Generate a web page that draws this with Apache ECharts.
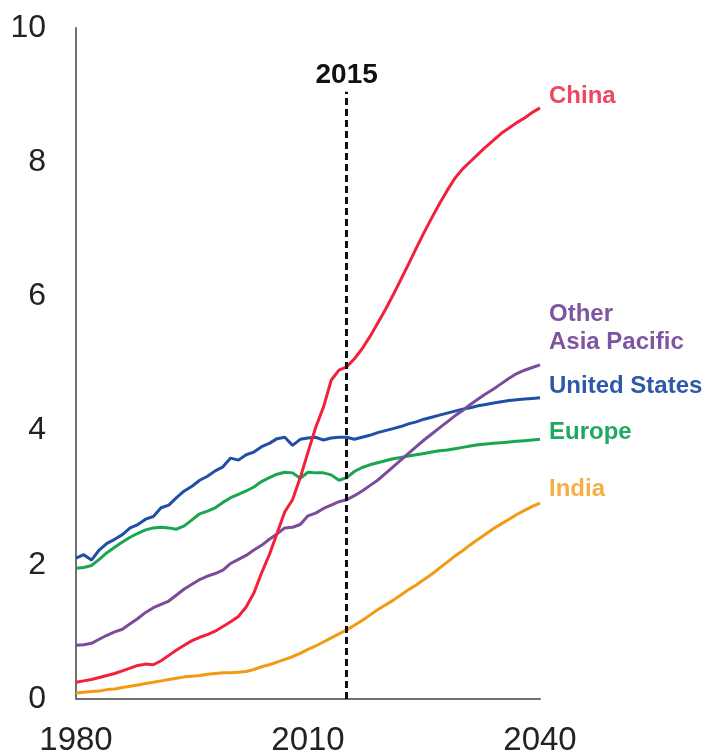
<!DOCTYPE html>
<html>
<head>
<meta charset="utf-8">
<title>Demand by region</title>
<script src="https://cdn.jsdelivr.net/npm/echarts@6/dist/echarts.min.js"></script>
<style>
  html, body { margin: 0; padding: 0; background: #fff; }
  #chart { width: 710px; height: 752px; }
</style>
</head>
<body>
<div id="chart"></div>
<script>
// years 1980..2040, one value per year
const years = [];
for (let y = 1980; y <= 2040; y++) years.push(y);

const china = [0.25, 0.27, 0.29, 0.32, 0.35, 0.38, 0.42, 0.46, 0.50, 0.52,
  0.51, 0.57, 0.65, 0.73, 0.80, 0.87, 0.92, 0.96, 1.01, 1.08,
  1.15, 1.23, 1.37, 1.58, 1.88, 2.15, 2.47, 2.79, 2.97, 3.30,
  3.68, 4.05, 4.35, 4.75, 4.90, 4.95, 5.07, 5.22, 5.40, 5.60,
  5.80, 6.02, 6.25, 6.48, 6.72, 6.95, 7.17, 7.38, 7.58, 7.76,
  7.90, 8.01, 8.12, 8.23, 8.33, 8.43, 8.51, 8.59, 8.66, 8.74, 8.81];

const otherAsia = [0.80, 0.81, 0.83, 0.89, 0.95, 1.00, 1.04, 1.12, 1.20, 1.29,
  1.36, 1.41, 1.46, 1.55, 1.64, 1.71, 1.78, 1.83, 1.87, 1.92,
  2.02, 2.08, 2.14, 2.22, 2.29, 2.38, 2.46, 2.55, 2.56, 2.60,
  2.73, 2.77, 2.84, 2.89, 2.94, 2.97, 3.03, 3.10, 3.18, 3.26,
  3.36, 3.46, 3.56, 3.66, 3.76, 3.86, 3.95, 4.04, 4.13, 4.22,
  4.30, 4.39, 4.47, 4.55, 4.62, 4.70, 4.78, 4.85, 4.90, 4.94, 4.98];

const unitedStates = [2.10, 2.15, 2.07, 2.22, 2.32, 2.38, 2.45, 2.55, 2.60, 2.68,
  2.72, 2.85, 2.89, 3.00, 3.10, 3.17, 3.26, 3.32, 3.40, 3.46,
  3.59, 3.56, 3.64, 3.68, 3.76, 3.81, 3.88, 3.90, 3.78, 3.87,
  3.89, 3.90, 3.86, 3.89, 3.90, 3.90, 3.87, 3.90, 3.93, 3.97,
  4.00, 4.03, 4.06, 4.10, 4.13, 4.17, 4.20, 4.23, 4.26, 4.29,
  4.32, 4.34, 4.37, 4.39, 4.41, 4.43, 4.45, 4.46, 4.47, 4.48, 4.49];

const europe = [1.95, 1.96, 1.99, 2.08, 2.18, 2.26, 2.34, 2.41, 2.47, 2.52,
  2.55, 2.56, 2.55, 2.53, 2.58, 2.67, 2.76, 2.80, 2.85, 2.93,
  3.00, 3.05, 3.10, 3.16, 3.24, 3.30, 3.35, 3.38, 3.37, 3.29,
  3.38, 3.37, 3.37, 3.34, 3.26, 3.30, 3.39, 3.45, 3.49, 3.52,
  3.55, 3.58, 3.60, 3.62, 3.64, 3.66, 3.68, 3.70, 3.71, 3.73,
  3.75, 3.77, 3.79, 3.80, 3.81, 3.82, 3.83, 3.84, 3.85, 3.86, 3.87];

const india = [0.09, 0.10, 0.11, 0.12, 0.14, 0.15, 0.17, 0.19, 0.21, 0.23,
  0.25, 0.27, 0.29, 0.31, 0.33, 0.34, 0.35, 0.37, 0.38, 0.39,
  0.39, 0.40, 0.41, 0.44, 0.48, 0.51, 0.55, 0.59, 0.63, 0.68,
  0.74, 0.79, 0.85, 0.91, 0.97, 1.03, 1.10, 1.17, 1.25, 1.33,
  1.40, 1.47, 1.55, 1.63, 1.70, 1.78, 1.86, 1.95, 2.04, 2.13,
  2.21, 2.30, 2.38, 2.46, 2.54, 2.61, 2.68, 2.75, 2.81, 2.87, 2.92];

const xTicks = [1980, 2010, 2040];
const markYear = 2015;
const markTop = 9.05;

const pairs = vals => years.map((y, i) => [y, vals[i]]);

const font = 'Liberation Sans, Arial, sans-serif';

function line(name, vals, color, labelColor, labelText, dy) {
  return {
    name: name,
    type: 'line',
    data: pairs(vals),
    showSymbol: false,
    lineStyle: { color: color, width: 3 },
    itemStyle: { color: color },
    emphasis: { disabled: true },
    endLabel: {
      show: true,
      formatter: labelText,
      color: labelColor,
      fontFamily: font,
      fontWeight: 'bold',
      fontSize: 24,
      lineHeight: 28,
      align: 'left',
      distance: 5,
      offset: [4, dy]
    }
  };
}

const myChart = echarts.init(document.getElementById('chart'));

let option = {
  animation: false,
  // 不让 v6 自动收缩网格，x 轴标签允许贴着底边
  grid: { left: 76, right: 170, top: 28, bottom: 53, outerBoundsMode: 'none' },
  xAxis: {
    type: 'value',
    min: 1980,
    max: 2040,
    interval: 30,
    axisLine: { show: true, lineStyle: { color: '#707070', width: 2 } },
    axisTick: { show: false },
    splitLine: { show: false },
    axisLabel: {
      color: '#222',
      fontFamily: font,
      fontSize: 33,
      margin: 25,
      formatter: v => xTicks.includes(v) ? String(v) : ''
    }
  },
  yAxis: {
    type: 'value',
    min: 0,
    max: 10,
    interval: 2,
    axisLine: { show: true, lineStyle: { color: '#707070', width: 2 } },
    axisTick: { show: false },
    splitLine: { show: false },
    axisLabel: {
      color: '#222',
      fontFamily: font,
      fontSize: 32,
      margin: 30
    }
  },
  series: [
    line('India', india, '#f29a12', '#f7ae45', 'India', -14),
    line('Europe', europe, '#1aa64f', '#22a862', 'Europe', -7),
    line('United States', unitedStates, '#1f4fa6', '#2d59a8', 'United States', -11),
    line('Other Asia Pacific', otherAsia, '#7b4b9c', '#7d55a0', 'Other\nAsia Pacific', -36),
    Object.assign(line('China', china, '#f2213a', '#ec4763', 'China', -11), {
      markLine: {
        silent: true,
        symbol: 'none',
        lineStyle: { color: '#111', type: [7, 4], width: 3 },
        label: {
          show: true,
          position: 'end',
          formatter: String(markYear),
          color: '#111',
          fontFamily: font,
          fontWeight: 'bold',
          fontSize: 28,
          distance: 2
        },
        data: [[{ coord: [markYear, 0] }, { coord: [markYear, markTop] }]]
      }
    })
  ]
};

option && myChart.setOption(option);
</script>
</body>
</html>
